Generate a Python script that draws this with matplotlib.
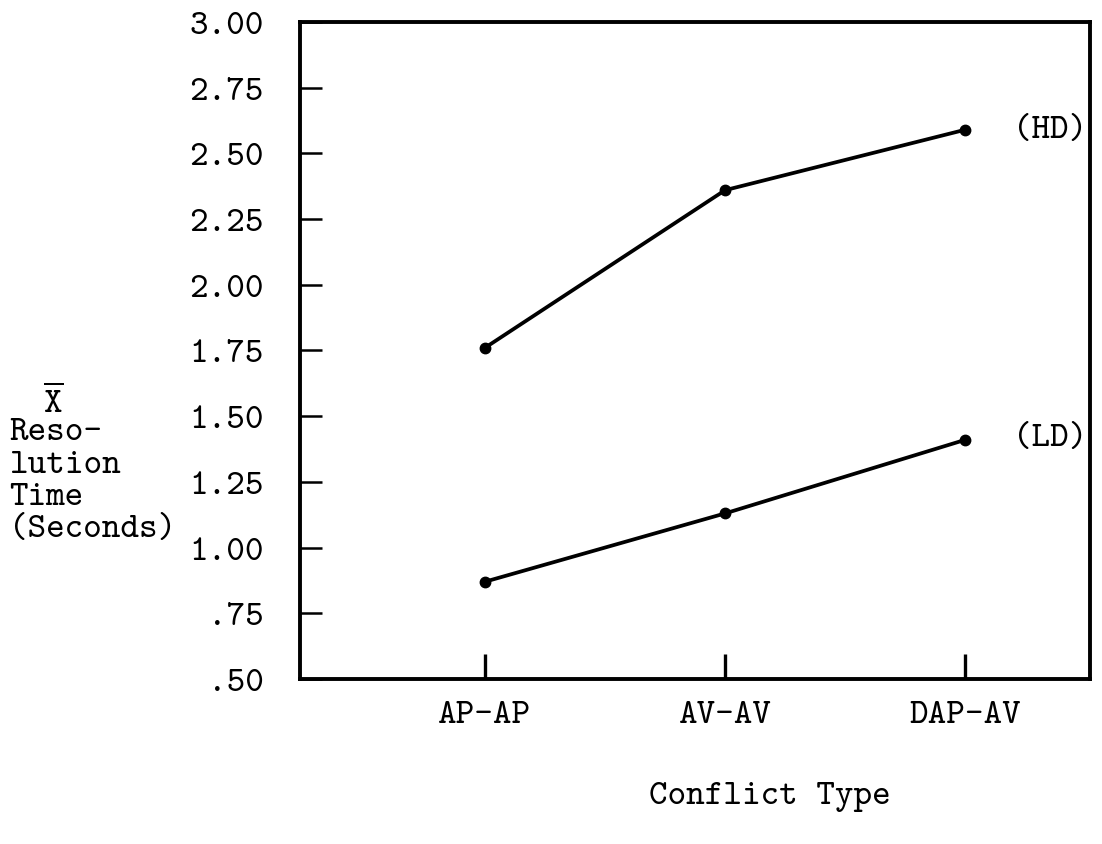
import matplotlib
matplotlib.use("Agg")
import matplotlib.pyplot as plt

# data
conflict_types = ["AP-AP", "AV-AV", "DAP-AV"]
hd_times = [1.76, 2.36, 2.59]   # high difficulty
ld_times = [0.87, 1.13, 1.41]   # low difficulty
y_ticks = [0.50, 0.75, 1.00, 1.25, 1.50, 1.75, 2.00, 2.25, 2.50, 2.75, 3.00]
y_tick_labels = [".50", ".75", "1.00", "1.25", "1.50", "1.75", "2.00",
                 "2.25", "2.50", "2.75", "3.00"]

plt.rcParams['font.family'] = ['cmtt10', 'DejaVu Sans Mono']
plt.rcParams['mathtext.fontset'] = 'cm'
plt.rcParams['axes.unicode_minus'] = False
FS = 25.5

fig = plt.figure(figsize=(11.02, 8.45), dpi=100)
ax = fig.add_axes([0.2722, 0.1953, 0.7170, 0.7775])

x = [1, 2, 3]
ax.plot(x, hd_times, color="black", lw=2.7, marker="o", ms=7.5)
ax.plot(x, ld_times, color="black", lw=2.7, marker="o", ms=7.5)

ax.annotate("(HD)", (x[-1], hd_times[-1]), xytext=(61, 0),
            textcoords="offset points", ha="center", va="center", fontsize=FS)
ax.annotate("(LD)", (x[-1], ld_times[-1]), xytext=(61, 1),
            textcoords="offset points", ha="center", va="center", fontsize=FS)

ax.set_xlim(0.23, 3.52)
ax.set_ylim(0.50, 3.00)
ax.set_xticks(x)
ax.set_xticklabels(conflict_types)
ax.set_yticks(y_ticks)
ax.set_yticklabels(y_tick_labels)

ax.tick_params(axis="y", direction="in", length=16, width=1.8, pad=26,
               labelsize=FS)
ax.tick_params(axis="x", direction="in", length=18, width=2.4, pad=15,
               labelsize=FS)
for s in ax.spines.values():
    s.set_linewidth(2.8)

fig.text(0.699, 0.057, "Conflict Type", ha="center", va="center", fontsize=FS)
fig.text(0.048, 0.523, r"$\overline{\mathtt{X}}$", ha="center", va="center",
         fontsize=FS)
fig.text(0.008, 0.430, "Reso-\nlution\nTime\n(Seconds)", ha="left",
         va="center", fontsize=FS, linespacing=1.1)

fig.savefig("out.png", dpi=100)
